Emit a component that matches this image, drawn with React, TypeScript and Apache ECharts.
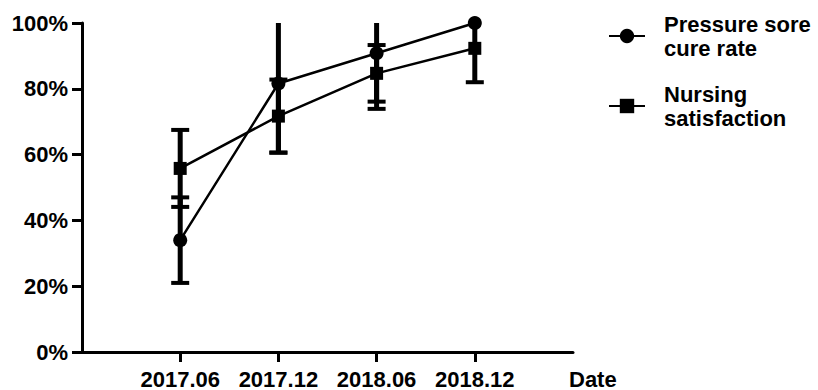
import React, { useEffect, useRef } from "react";
import * as echarts from "echarts";

// Survey dates (x categories)
const categories = ["2017.06", "2017.12", "2018.06", "2018.12"];

// Pressure sore cure rate (%) with its error half-widths
const cureRate = [34.0, 81.6, 90.8, 100.0];
const cureRateErr = [13.0, 21.0, 16.9, 0];

// Nursing satisfaction (%) with its error half-widths
const satisfaction = [55.8, 71.7, 84.7, 92.3];
const satisfactionErr = [11.7, 11.1, 8.6, 10.3];

// y-axis ticks
const yTicks = [0, 20, 40, 60, 80, 100];

const FONT = "'Liberation Sans', Arial, sans-serif";
const Y_MAX = 100;

// Category axis padded with blank slots so the first and last dates sit one step in from the ends
const axisCats = ["", ...categories, ""];

function errorBarSeries(name: string, values: number[], errs: number[]) {
  return {
    type: "custom",
    name,
    z: 1,
    silent: true,
    data: categories.map((c, i) => [c, values[i] - errs[i], values[i] + errs[i]]),
    encode: { x: 0, y: [1, 2] },
    renderItem: (params: any, api: any) => {
      const xi = api.value(0);
      const lo = api.value(1);
      const hi = api.value(2);
      if (hi - lo <= 0) return { type: "group", children: [] };
      const top = Math.min(hi, Y_MAX);
      const pLo = api.coord([xi, lo]);
      const pHi = api.coord([xi, top]);
      const capHalf = 9;
      const children: any[] = [
        {
          type: "line",
          shape: { x1: pLo[0], y1: pLo[1], x2: pHi[0], y2: pHi[1] },
          style: { stroke: "#000", lineWidth: 5 },
        },
        {
          type: "line",
          shape: { x1: pLo[0] - capHalf, y1: pLo[1], x2: pLo[0] + capHalf, y2: pLo[1] },
          style: { stroke: "#000", lineWidth: 4 },
        },
      ];
      if (hi <= Y_MAX) {
        children.push({
          type: "line",
          shape: { x1: pHi[0] - capHalf, y1: pHi[1], x2: pHi[0] + capHalf, y2: pHi[1] },
          style: { stroke: "#000", lineWidth: 4 },
        });
      }
      return { type: "group", children };
    },
  };
}

export default function App() {
  const ref = useRef<HTMLDivElement>(null);

  useEffect(() => {
    document.body.style.margin = "0";
    if (!ref.current) return;
    const chart = echarts.init(ref.current, undefined, { renderer: "svg" });

    const textBase = { fontFamily: FONT, fontWeight: "bold" as const, color: "#000" };

    chart.setOption({
      animation: false,
      backgroundColor: "#fff",
      grid: { left: 82, right: 245, top: 23, bottom: 38, containLabel: false },
      legend: {
        orient: "vertical",
        left: 603,
        top: 7,
        itemWidth: 36,
        itemHeight: 18,
        itemGap: 22,
        data: ["Pressure sore\ncure rate", "Nursing\nsatisfaction"],
        textStyle: { ...textBase, fontSize: 22, lineHeight: 24, padding: [0, 0, 0, 14] },
      },
      xAxis: {
        type: "category",
        data: axisCats,
        boundaryGap: false,
        axisLine: { lineStyle: { color: "#000", width: 3 } },
        axisTick: {
          length: 10,
          lineStyle: { color: "#000", width: 3 },
          interval: (_i: number, v: string) => v !== "",
        },
        axisLabel: { ...textBase, fontSize: 22, margin: 16, interval: 0 },
        splitLine: { show: false },
      },
      yAxis: {
        type: "value",
        min: yTicks[0],
        max: yTicks[yTicks.length - 1],
        interval: 20,
        axisLine: { show: true, lineStyle: { color: "#000", width: 3 } },
        axisTick: { show: true, length: 10, lineStyle: { color: "#000", width: 3 } },
        axisLabel: { ...textBase, fontSize: 22, margin: 14, formatter: "{value}%" },
        splitLine: { show: false },
      },
      graphic: [
        {
          type: "text",
          left: 569,
          top: 368,
          style: { text: "Date", font: `bold 22px ${FONT}`, fill: "#000" },
        },
      ],
      series: [
        errorBarSeries("cureErr", cureRate, cureRateErr),
        errorBarSeries("satErr", satisfaction, satisfactionErr),
        {
          type: "line",
          name: "Pressure sore\ncure rate",
          z: 3,
          data: categories.map((c, i) => [c, cureRate[i]]),
          symbol: "circle",
          symbolSize: 14,
          lineStyle: { color: "#000", width: 2.5 },
          itemStyle: { color: "#000" },
        },
        {
          type: "line",
          name: "Nursing\nsatisfaction",
          z: 3,
          data: categories.map((c, i) => [c, satisfaction[i]]),
          symbol: "rect",
          symbolSize: 13,
          lineStyle: { color: "#000", width: 2.5 },
          itemStyle: { color: "#000" },
        },
      ],
    });

    return () => chart.dispose();
  }, []);

  return <div ref={ref} style={{ width: 818, height: 390 }} />;
}
